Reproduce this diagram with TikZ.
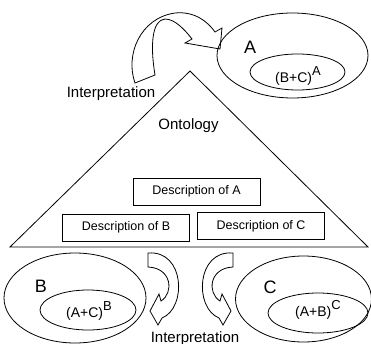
\documentclass[tikz,border=0pt]{standalone}
\usepackage{fontspec}
\setmainfont{Liberation Sans}
\usetikzlibrary{shapes.geometric}
\newcommand{\upidx}[1]{\raisebox{7pt}{\fontsize{13}{13}\selectfont #1}}

\begin{document}
\begin{tikzpicture}[x=1pt, y=-1pt, line width=0.8pt,
	setring/.style={draw, ellipse, inner sep=0pt},
	setname/.style={font=\fontsize{18}{20}\selectfont},
	setsum/.style={anchor=base, font=\fontsize{14}{16}\selectfont},
	descbox/.style={draw, minimum width=127pt, minimum height=27pt, font=\fontsize{12.5}{14}\selectfont},
	caption/.style={anchor=base, font=\fontsize{15}{18}\selectfont},
	bendarrow/.style={draw, line join=miter}]
	\useasboundingbox (0,0) rectangle (371,344);
	
	%Ontology triangle
	\coordinate (apex) at (190,71);
	\coordinate (baseL) at (10,247);
	\coordinate (baseR) at (368,247);
	\draw (apex) -- (baseL) -- (baseR) -- cycle;
	\node[caption] (onto) at (188.5,130) {Ontology};
	
	%Descriptions
	\node[descbox] (descA) at (196.5,191.5) {Description of A};
	\node[descbox] (descB) at (126,227.5) {Description of B};
	\node[descbox] (descC) at (261,226) {Description of C};
	
	%Set A
	\node[setring, minimum width=151pt, minimum height=85pt] (ringA) at (292.5,55.5) {};
	\node[setring, minimum width=95pt, minimum height=36pt] (innerA) at (297.5,72) {};
	\node[setname] (nameA) at (250,47) {A};
	\node[setsum] (sumA) at (298,83) {(B+C)\upidx{A}};
	
	%Set B
	\node[setring, minimum width=142pt, minimum height=90pt] (ringB) at (75,298) {};
	\node[setring, minimum width=96pt, minimum height=40pt] (innerB) at (88,310) {};
	\node[setname] (nameB) at (41,286) {B};
	\node[setsum] (sumB) at (89,317) {(A+C)\upidx{B}};
	
	%Set C
	\node[setring, minimum width=136pt, minimum height=86pt] (ringC) at (303.5,299) {};
	\node[setring, minimum width=100pt, minimum height=40pt] (innerC) at (318,313) {};
	\node[setname] (nameC) at (270,287) {C};
	\node[setsum] (sumC) at (318,316) {(A+B)\upidx{C}};
	
	%Interpretation arrows
	\draw[bendarrow] (135,83) .. controls (125,55) and (140,18) .. (175,13)
		.. controls (195,11) and (208,22) .. (215,32) -- (222,28) -- (220,49) -- (185,43) -- (192,39)
		.. controls (185,30) and (175,19) .. (165,19) .. controls (152,20) and (150,45) .. (155,75) -- cycle;
	\node[caption] (interpTop) at (111,98) {Interpretation};
	
	\draw[bendarrow] (148,253) .. controls (185,250) and (187,308) .. (162,318) -- (158,325) -- (150,311)
		-- (159,294) -- (161,301) .. controls (174,293) and (172,268) .. (148,267) -- cycle;
	\draw[bendarrow] (233,253) .. controls (196,250) and (194,308) .. (219,318) -- (223,325) -- (231,311)
		-- (222,294) -- (220,301) .. controls (207,293) and (209,268) .. (233,267) -- cycle;
	\node[caption] (interpBot) at (195,342) {Interpretation};
\end{tikzpicture}
\end{document}
